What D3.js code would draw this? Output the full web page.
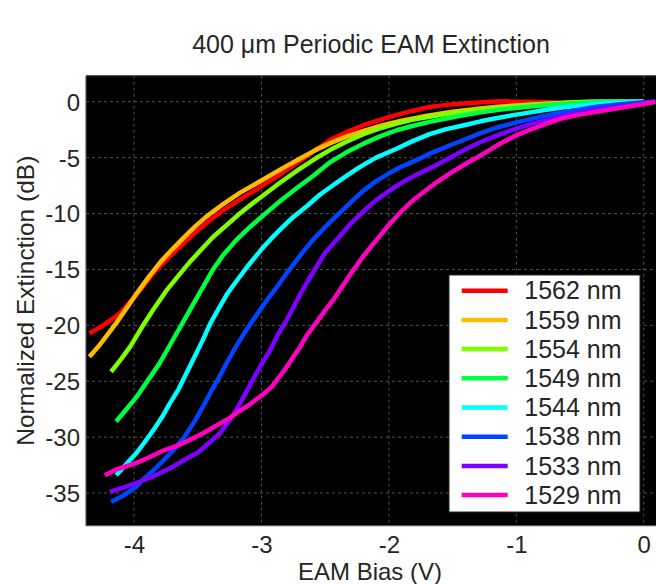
<!DOCTYPE html>
<html>
<head>
<meta charset="utf-8">
<script src="https://cdn.jsdelivr.net/npm/d3@7/dist/d3.min.js"></script>
<style>
  html, body { margin: 0; padding: 0; background: #ffffff; }
  svg { display: block; }
  text { font-family: "Liberation Sans", Arial, Helvetica, sans-serif; fill: #262626; }
</style>
</head>
<body>
<svg id="chart" width="656" height="584"></svg>
<script>
// Wavelengths (legend order) and line colours
const wavelengths = ["1562 nm", "1559 nm", "1554 nm", "1549 nm", "1544 nm", "1538 nm", "1533 nm", "1529 nm"];
const colors = ["#ff0000", "#ffbb00", "#80ff00", "#00ff40", "#00ffff", "#0044ff", "#8000ff", "#ff00c0"];

// Extinction curves: [bias (V), normalized extinction (dB)]
const ext1562 = [[-4.35,-20.7],[-4.27,-20.2],[-4.19,-19.6],[-4.11,-18.9],[-4.03,-17.9],[-3.95,-16.8],[-3.86,-15.5],[-3.77,-14.4],[-3.68,-13.4],[-3.59,-12.45],[-3.5,-11.5],[-3.4,-10.55],[-3.28,-9.55],[-3.15,-8.6],[-3.0,-7.55],[-2.88,-6.7],[-2.77,-5.85],[-2.66,-5.0],[-2.56,-4.2],[-2.46,-3.4],[-2.33,-2.7],[-2.2,-2.1],[-2.07,-1.62],[-1.94,-1.18],[-1.81,-0.8],[-1.68,-0.47],[-1.55,-0.28],[-1.41,-0.15],[-1.27,-0.05],[-1.13,0.05],[-1.0,0.0],[-0.89,0.0],[-0.75,-0.05],[-0.63,-0.1],[-0.5,-0.05],[-0.37,0.0],[-0.2,0.0],[0,0]];
const ext1559 = [[-4.35,-22.8],[-4.28,-21.9],[-4.22,-21.0],[-4.14,-19.8],[-4.06,-18.5],[-3.97,-17.0],[-3.88,-15.6],[-3.79,-14.3],[-3.7,-13.2],[-3.61,-12.15],[-3.52,-11.15],[-3.43,-10.25],[-3.3,-9.15],[-3.17,-8.15],[-3.0,-7.05],[-2.85,-6.05],[-2.7,-5.1],[-2.58,-4.35],[-2.46,-3.7],[-2.33,-3.1],[-2.2,-2.6],[-2.05,-2.1],[-1.9,-1.7],[-1.7,-1.25],[-1.5,-0.9],[-1.3,-0.62],[-1.15,-0.45],[-1.0,-0.33],[-0.8,-0.2],[-0.6,-0.1],[-0.4,0.0],[-0.2,0.0],[0,0]];
const ext1554 = [[-4.18,-24.15],[-4.1,-23.0],[-4.03,-21.9],[-3.94,-20.2],[-3.85,-18.6],[-3.74,-16.8],[-3.64,-15.4],[-3.56,-14.3],[-3.47,-13.2],[-3.38,-12.1],[-3.27,-11.0],[-3.17,-10.0],[-3.06,-9.0],[-3.0,-8.5],[-2.85,-7.2],[-2.7,-6.0],[-2.58,-5.1],[-2.46,-4.3],[-2.33,-3.55],[-2.2,-2.9],[-2.07,-2.38],[-1.94,-1.95],[-1.81,-1.6],[-1.68,-1.34],[-1.55,-1.1],[-1.41,-0.9],[-1.28,-0.72],[-1.15,-0.56],[-1.0,-0.4],[-0.89,-0.3],[-0.7,-0.15],[-0.5,-0.02],[-0.3,0.0],[0,0]];
const ext1549 = [[-4.14,-28.6],[-4.06,-27.5],[-3.98,-26.4],[-3.89,-24.9],[-3.8,-23.4],[-3.71,-21.6],[-3.62,-19.8],[-3.54,-18.2],[-3.46,-16.6],[-3.38,-15.0],[-3.3,-13.7],[-3.2,-12.4],[-3.09,-11.2],[-3.0,-10.3],[-2.85,-8.85],[-2.72,-7.7],[-2.59,-6.6],[-2.46,-5.4],[-2.33,-4.5],[-2.2,-3.75],[-2.07,-3.1],[-1.94,-2.55],[-1.81,-2.15],[-1.68,-1.8],[-1.55,-1.5],[-1.41,-1.19],[-1.28,-0.95],[-1.15,-0.74],[-1.0,-0.55],[-0.89,-0.42],[-0.75,-0.3],[-0.63,-0.18],[-0.4,-0.05],[-0.2,0.0],[0,0]];
const ext1544 = [[-4.14,-33.4],[-4.06,-32.4],[-3.98,-31.4],[-3.92,-30.5],[-3.85,-29.4],[-3.78,-28.2],[-3.72,-27.0],[-3.65,-25.7],[-3.59,-24.3],[-3.52,-22.7],[-3.46,-21.3],[-3.4,-19.8],[-3.33,-18.4],[-3.27,-17.2],[-3.2,-16.1],[-3.1,-14.6],[-3.0,-13.2],[-2.92,-12.2],[-2.85,-11.4],[-2.75,-10.3],[-2.64,-9.3],[-2.54,-8.3],[-2.43,-7.4],[-2.33,-6.6],[-2.23,-5.85],[-2.1,-5.0],[-1.94,-4.2],[-1.81,-3.5],[-1.68,-2.9],[-1.55,-2.45],[-1.41,-2.1],[-1.28,-1.75],[-1.15,-1.45],[-1.0,-1.15],[-0.89,-0.95],[-0.75,-0.7],[-0.63,-0.5],[-0.5,-0.35],[-0.37,-0.2],[-0.2,-0.1],[0,0]];
const ext1538 = [[-4.18,-35.8],[-4.08,-35.2],[-3.98,-34.4],[-3.93,-33.8],[-3.85,-33.0],[-3.78,-32.2],[-3.72,-31.5],[-3.67,-30.9],[-3.6,-29.9],[-3.52,-28.5],[-3.46,-27.3],[-3.4,-26.0],[-3.33,-24.6],[-3.27,-23.3],[-3.2,-21.9],[-3.13,-20.6],[-3.07,-19.6],[-2.98,-18.1],[-2.9,-16.9],[-2.8,-15.3],[-2.7,-13.8],[-2.6,-12.4],[-2.5,-11.2],[-2.4,-10.1],[-2.3,-9.0],[-2.2,-7.95],[-2.1,-7.1],[-2.0,-6.4],[-1.9,-5.8],[-1.78,-5.2],[-1.65,-4.5],[-1.5,-3.8],[-1.41,-3.4],[-1.28,-2.8],[-1.15,-2.3],[-1.0,-1.85],[-0.89,-1.55],[-0.75,-1.2],[-0.63,-0.95],[-0.5,-0.7],[-0.37,-0.45],[-0.2,-0.25],[0,-0.05],[0.09,0]];
const ext1533 = [[-4.19,-34.9],[-4.08,-34.5],[-3.98,-34.1],[-3.85,-33.5],[-3.72,-32.8],[-3.6,-32.0],[-3.49,-31.3],[-3.41,-30.5],[-3.33,-29.7],[-3.25,-28.5],[-3.2,-27.6],[-3.13,-26.2],[-3.07,-24.9],[-3.0,-23.5],[-2.93,-22.2],[-2.87,-20.8],[-2.81,-19.7],[-2.75,-18.4],[-2.7,-17.3],[-2.63,-15.9],[-2.56,-14.6],[-2.5,-13.5],[-2.43,-12.6],[-2.36,-11.7],[-2.3,-10.9],[-2.2,-9.8],[-2.1,-8.8],[-2.0,-8.0],[-1.91,-7.3],[-1.78,-6.5],[-1.65,-5.8],[-1.52,-5.0],[-1.39,-4.2],[-1.28,-3.6],[-1.15,-3.0],[-1.0,-2.4],[-0.89,-2.0],[-0.75,-1.6],[-0.63,-1.25],[-0.5,-0.95],[-0.37,-0.7],[-0.2,-0.45],[-0.1,-0.3],[0,-0.15],[0.09,0]];
const ext1529 = [[-4.23,-33.4],[-4.14,-32.9],[-4.06,-32.6],[-3.98,-32.3],[-3.88,-31.8],[-3.77,-31.2],[-3.67,-30.8],[-3.59,-30.4],[-3.5,-29.9],[-3.42,-29.4],[-3.33,-28.8],[-3.25,-28.3],[-3.18,-27.7],[-3.12,-27.3],[-3.05,-26.7],[-2.99,-26.2],[-2.92,-25.5],[-2.86,-24.6],[-2.8,-23.7],[-2.75,-22.8],[-2.7,-22.0],[-2.65,-21.0],[-2.56,-19.6],[-2.49,-18.5],[-2.43,-17.6],[-2.37,-16.6],[-2.3,-15.4],[-2.2,-13.8],[-2.1,-12.4],[-2.0,-11.0],[-1.91,-9.9],[-1.82,-8.9],[-1.73,-8.1],[-1.65,-7.4],[-1.52,-6.4],[-1.39,-5.5],[-1.28,-4.8],[-1.15,-3.9],[-1.02,-3.1],[-0.89,-2.5],[-0.75,-1.9],[-0.63,-1.45],[-0.5,-1.15],[-0.37,-0.9],[-0.24,-0.65],[-0.11,-0.4],[0,-0.2],[0.09,0]];

const curves = [ext1562, ext1559, ext1554, ext1549, ext1544, ext1538, ext1533, ext1529];

// Axis ticks
const xTicks = [-4, -3, -2, -1, 0];
const yTicks = [0, -5, -10, -15, -20, -25, -30, -35];

const svg = d3.select("#chart");
const plot = { left: 86, right: 657, top: 75.7, bottom: 525.7 };

const x = d3.scaleLinear().domain([-4.377, 0.104]).range([plot.left, plot.right]);
const y = d3.scaleLinear().domain([-37.92, 2.33]).range([plot.bottom, plot.top]);

// Black plotting area
svg.append("rect")
  .attr("x", plot.left).attr("y", plot.top)
  .attr("width", plot.right - plot.left).attr("height", plot.bottom - plot.top)
  .attr("fill", "#000000");

// Dashed grid
const grid = svg.append("g").attr("class", "grid");
grid.selectAll("line.gx").data(xTicks).join("line")
  .attr("x1", d => x(d)).attr("x2", d => x(d))
  .attr("y1", plot.top).attr("y2", plot.bottom)
  .attr("stroke", "#525252").attr("stroke-width", 1).attr("stroke-dasharray", "3,3");
grid.selectAll("line.gy").data(yTicks).join("line")
  .attr("y1", d => y(d)).attr("y2", d => y(d))
  .attr("x1", plot.left).attr("x2", plot.right)
  .attr("stroke", "#525252").attr("stroke-width", 1).attr("stroke-dasharray", "3,3");

// Curves
svg.append("clipPath").attr("id", "plotclip")
  .append("rect").attr("x", plot.left).attr("y", plot.top)
  .attr("width", plot.right - plot.left).attr("height", plot.bottom - plot.top);

const line = d3.line().x(d => x(d[0])).y(d => y(d[1]));
svg.append("g").attr("clip-path", "url(#plotclip)")
  .selectAll("path").data(curves).join("path")
  .attr("d", line)
  .attr("fill", "none")
  .attr("stroke", (d, i) => colors[i])
  .attr("stroke-width", 4.5)
  .attr("stroke-linejoin", "round");

// Axes frame
svg.append("line").attr("x1", plot.left).attr("x2", plot.left).attr("y1", plot.top).attr("y2", plot.bottom)
  .attr("stroke", "#555").attr("stroke-width", 1.2);
svg.append("line").attr("x1", plot.left).attr("x2", plot.right).attr("y1", plot.bottom).attr("y2", plot.bottom)
  .attr("stroke", "#555").attr("stroke-width", 1.2);
svg.append("line").attr("x1", plot.left).attr("x2", plot.right).attr("y1", plot.top).attr("y2", plot.top)
  .attr("stroke", "#555").attr("stroke-width", 1.2);

// Tick labels via d3 axes
const xAxis = svg.append("g").attr("transform", `translate(0,${plot.bottom})`)
  .call(d3.axisBottom(x).tickValues(xTicks).tickSize(0).tickPadding(0));
xAxis.select(".domain").remove();
xAxis.selectAll("text").attr("font-size", 24).attr("y", 27).attr("dy", 0)
  .style("font-family", "'Liberation Sans', Arial, sans-serif").attr("fill", "#262626")
  .text(d => d === 0 ? "0" : "-" + Math.abs(d));

const yAxis = svg.append("g").attr("transform", `translate(${plot.left},0)`)
  .call(d3.axisLeft(y).tickValues(yTicks).tickSize(0).tickPadding(6));
yAxis.select(".domain").remove();
yAxis.selectAll("text").attr("font-size", 24).attr("dy", "0.35em")
  .style("font-family", "'Liberation Sans', Arial, sans-serif").attr("fill", "#262626")
  .text(d => d === 0 ? "0" : "-" + Math.abs(d));

// Title and axis labels
svg.append("text").attr("x", 371).attr("y", 53).attr("text-anchor", "middle")
  .attr("font-size", 25).text("400 μm Periodic EAM Extinction");
svg.append("text").attr("x", 370).attr("y", 580).attr("text-anchor", "middle")
  .attr("font-size", 24).text("EAM Bias (V)");
svg.append("text").attr("transform", `translate(34,${(plot.top + plot.bottom) / 2}) rotate(-90)`)
  .attr("text-anchor", "middle").attr("font-size", 24.5).text("Normalized Extinction (dB)");

// Legend
const legend = svg.append("g");
legend.append("rect").attr("x", 449).attr("y", 275).attr("width", 191).attr("height", 237)
  .attr("fill", "#ffffff").attr("stroke", "#262626").attr("stroke-width", 1);
const rows = legend.selectAll("g.row").data(wavelengths).join("g")
  .attr("transform", (d, i) => `translate(0,${290.7 + i * 29.2})`);
rows.append("line").attr("x1", 461.7).attr("x2", 507.7).attr("y1", 0).attr("y2", 0)
  .attr("stroke", (d, i) => colors[i]).attr("stroke-width", 4.5);
rows.append("text").attr("x", 524.3).attr("y", 8.7).attr("font-size", 25).attr("fill", "#000")
  .text(d => d);
</script>
</body>
</html>
